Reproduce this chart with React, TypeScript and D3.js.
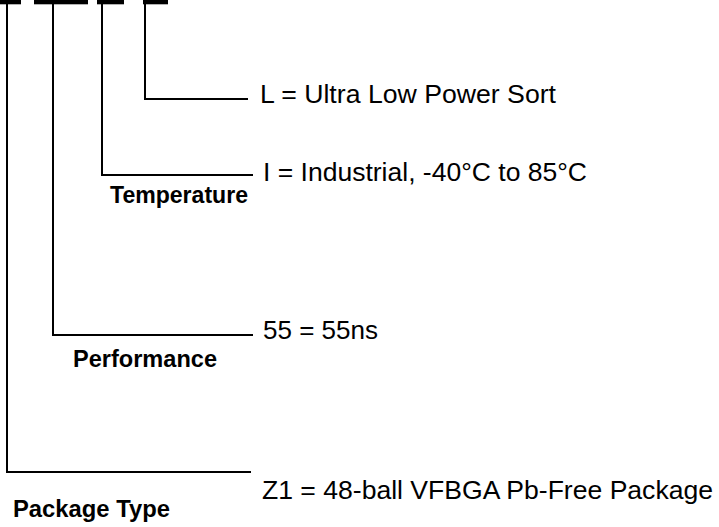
import React, { useEffect, useRef } from 'react';
import * as d3 from 'd3';

// part number fields, left to right
const fieldNames = ['Package Type', 'Performance', 'Temperature', ''];
const fieldOptions = [
  'Z1 = 48-ball VFBGA Pb-Free Package',
  '55 = 55ns',
  'I = Industrial, -40°C to 85°C',
  'L = Ultra Low Power Sort'
];

const W = 719;
const H = 527;

// layout (pixels), one entry per field
const barSpan: [number, number][] = [[0, 21], [34, 88], [97, 124], [143, 168]];
const stemX = [7, 53, 102, 145];
const leaderY = [472, 335, 175, 99];
const leaderEnd = [251, 253, 253, 248];
const optPos: [number, number, number][] = [ // x, baseline, width
  [262, 499, 451],
  [263, 339, 115],
  [263, 181, 324],
  [260, 103, 296]
];
const namePos: [number, number, number][] = [
  [13, 517, 157],
  [73, 367, 144],
  [110, 203, 138],
  [0, 0, 0]
];

const App: React.FC = () => {
  const svgRef = useRef<SVGSVGElement>(null);

  useEffect(() => {
    if (!svgRef.current) return;
    const svg = d3.select(svgRef.current);
    svg.selectAll('*').remove();

    const font = '"Liberation Sans", Arial, Helvetica, sans-serif';
    const g = svg.append('g');

    const fields = fieldOptions.map((opt, i) => ({ name: fieldNames[i], opt, i }));

    // bars over the part number characters
    g.selectAll('rect.bar')
      .data(fields)
      .enter()
      .append('rect')
      .attr('class', 'bar')
      .attr('x', d => barSpan[d.i][0])
      .attr('y', 0)
      .attr('width', d => barSpan[d.i][1] - barSpan[d.i][0])
      .attr('height', 4.3)
      .attr('fill', '#000');

    // leader lines
    g.selectAll('path.leader')
      .data(fields)
      .enter()
      .append('path')
      .attr('class', 'leader')
      .attr('d', d => `M${stemX[d.i]},4V${leaderY[d.i]}H${leaderEnd[d.i]}`)
      .attr('fill', 'none')
      .attr('stroke', '#000')
      .attr('stroke-width', 2);

    // option descriptions
    g.selectAll('text.opt')
      .data(fields)
      .enter()
      .append('text')
      .attr('class', 'opt')
      .attr('x', d => optPos[d.i][0])
      .attr('y', d => optPos[d.i][1])
      .attr('textLength', d => optPos[d.i][2])
      .attr('lengthAdjust', 'spacingAndGlyphs')
      .style('font-family', font)
      .style('font-size', '25.5px')
      .attr('fill', '#000')
      .text(d => d.opt);

    // field names (bold)
    g.selectAll('text.name')
      .data(fields.filter(d => d.name !== ''))
      .enter()
      .append('text')
      .attr('class', 'name')
      .attr('x', d => namePos[d.i][0])
      .attr('y', d => namePos[d.i][1])
      .attr('textLength', d => namePos[d.i][2])
      .attr('lengthAdjust', 'spacingAndGlyphs')
      .style('font-family', font)
      .style('font-size', '23.5px')
      .style('font-weight', 'bold')
      .attr('fill', '#000')
      .text(d => d.name);
  }, []);

  return (
    <svg
      ref={svgRef}
      width={W}
      height={H}
      style={{ position: 'absolute', left: 0, top: 0, background: '#fff' }}
    />
  );
};

export default App;
